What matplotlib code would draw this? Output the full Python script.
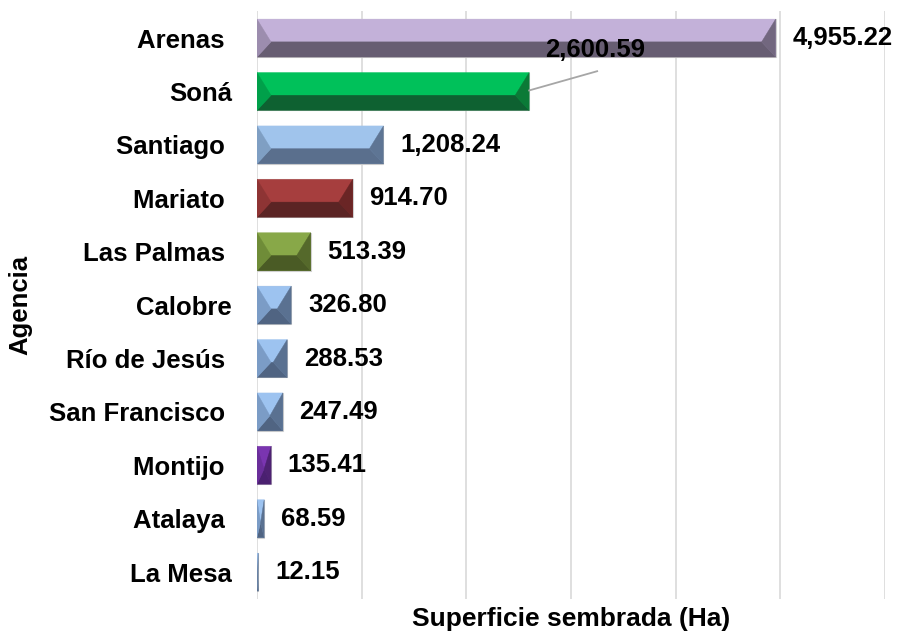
import numpy as np
from matplotlib import pyplot as plt
from matplotlib.patches import Polygon

# datos (los espacios finales vienen de las etiquetas originales)
agencias = ["Arenas ", "Soná", "Santiago ", "Mariato ", "Las Palmas ", "Calobre",
            "Río de Jesús ", "San Francisco ", "Montijo ", "Atalaya ", "La Mesa"]
superficie = [4955.22, 2600.59, 1208.24, 914.70, 513.39, 326.80,
              288.53, 247.49, 135.41, 68.59, 12.15]

# colores de bisel: (cara superior, izquierda, derecha, inferior)
azul = ("#9DC3F0", "#7B9CC6", "#5A7191", "#506482")
colores = [
    ("#C3B1D9", "#9C8DAE", "#72677F", "#675D72"),
    ("#00C15A", "#00A04A", "#0B7A37", "#0E6131"),
    ("#A0C4EC", "#7F9FC3", "#5E7594", "#5A6F8D"),
    ("#A63E3E", "#8E3434", "#6A2525", "#5B2424"),
    ("#88A848", "#6F8C38", "#55692B", "#4A5B25"),
    azul, azul, azul,
    ("#7A35B0", "#6A2E9A", "#4E2272", "#4A2070"),
    azul, azul,
]

plt.rcParams['font.family'] = ['Liberation Sans', 'DejaVu Sans']
plt.rcParams['font.weight'] = 'bold'

fig = plt.figure(figsize=(8.97, 6.33), dpi=100)
ax = fig.add_axes([0.2865, 0.054, 0.7001, 0.928])

y = np.arange(len(agencias))
h = 0.71
bisel = 134  # ancho del bisel en unidades de datos

ax.barh(y, superficie, height=h, color=[c[0] for c in colores],
        edgecolor="#D0D0D0", linewidth=0.8, zorder=2)

for yi, v, c in zip(y, superficie, colores):
    yt = yi - h / 2
    yb = yi + h / 2
    ym = yt + 0.6 * h
    w = min(bisel, v / 2)
    caras = [
        ([(0, yt), (v, yt), (v - w, ym), (w, ym)], c[0]),
        ([(w, ym), (v - w, ym), (v, yb), (0, yb)], c[3]),
        ([(0, yt), (w, ym), (0, yb)], c[1]),
        ([(v, yt), (v - w, ym), (v, yb)], c[2]),
    ]
    for pts, col in caras:
        ax.add_patch(Polygon(pts, closed=True, facecolor=col, edgecolor=col,
                             linewidth=0.3, zorder=3))

# etiquetas de valor
for yi, v in zip(y, superficie):
    txt = f"{v:,.2f}"
    if yi == 1:
        # etiqueta desplazada con línea guía
        ax.plot([v, 3250], [yi - 0.02, yi - 0.38], color="#A6A6A6", lw=1.3, zorder=4)
        ax.text(3229, yi - 0.78, txt, ha="center", va="center", fontsize=18.5,
                fontweight="bold", zorder=5)
    else:
        ax.annotate(txt, xy=(v, yi), xytext=(12, 0), textcoords="offset points",
                    ha="left", va="center", fontsize=18.5, fontweight="bold",
                    annotation_clip=False, zorder=5)

ax.set_xlim(0, 6000)
ax.set_ylim(len(agencias) - 0.5, -0.5)
ax.set_xticks(np.arange(0, 6001, 1000))
ax.set_xticklabels([])
ax.set_yticks(y)
ax.set_yticklabels(agencias, fontsize=18.5, fontweight="bold")
ax.tick_params(axis="both", length=0)
ax.tick_params(axis="y", pad=18)
ax.grid(axis="x", color="#D9D9D9", linewidth=1.2, zorder=0)
ax.set_axisbelow(True)
for s in ax.spines.values():
    s.set_visible(False)

ax.set_xlabel("Superficie sembrada (Ha)", fontsize=19, fontweight="bold")
ax.xaxis.set_label_coords(0.5, -0.034)
ax.xaxis.label.set_va("center")
ax.set_ylabel("Agencia", fontsize=18.5, fontweight="bold")
ax.yaxis.set_label_coords(-0.377, 0.5)
ax.yaxis.label.set_va("center")

fig.savefig("out.png", dpi=100)
